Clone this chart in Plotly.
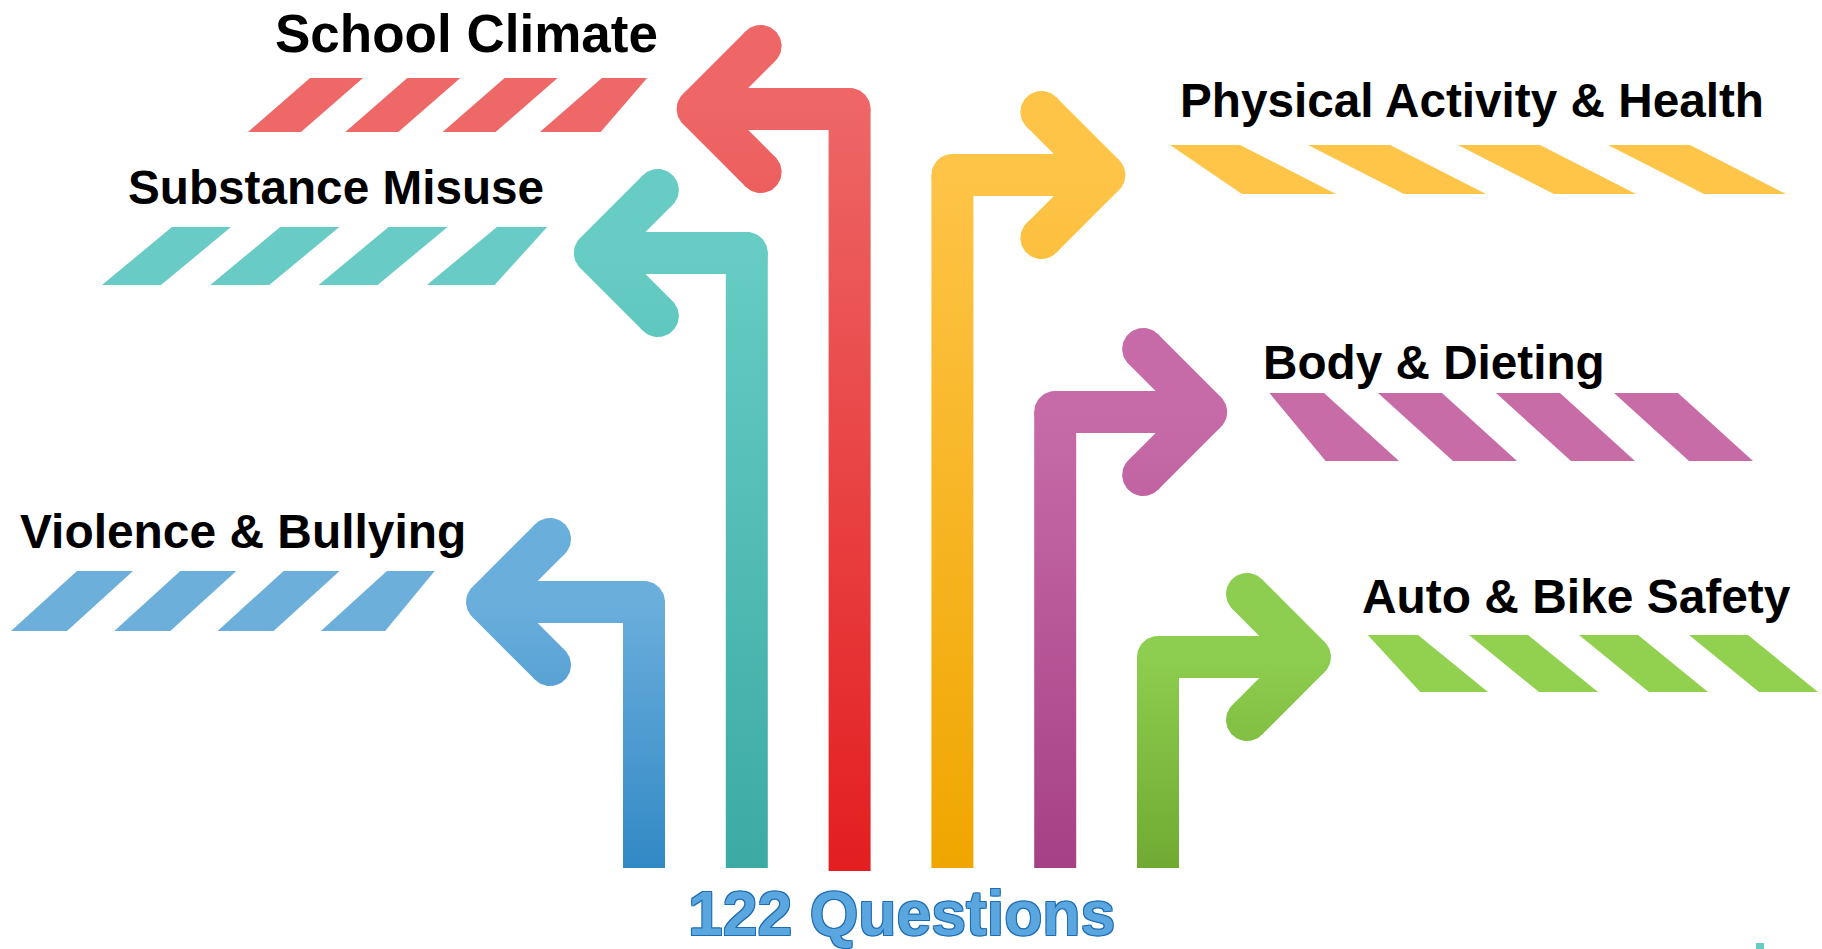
import numpy as np
import plotly.graph_objects as go

# ---------------- data ----------------
categories = ["School Climate", "Substance Misuse", "Violence & Bullying",
              "Physical Activity & Health", "Body & Dieting", "Auto & Bike Safety"]
directions = ["left", "left", "left", "right", "right", "right"]
stripe_counts = [4, 4, 4, 4, 4, 4]
total_label = "122 Questions"

# ---------------- styles ----------------
top_colors = ["#EE6666", "#66CCC4", "#6AAEDC", "#FEC447", "#C76BA8", "#8DCD4F"]
bottom_colors = ["#E31E20", "#3CAAA3", "#3289C5", "#F0A600", "#A64086", "#70AA32"]
stripe_colors = ["#EE6868", "#68CBC5", "#6BAFDA", "#FEC548", "#C86CA8", "#92D050"]

# ---------------- layout spec (pixel space) ----------------
W, H = 1822, 949
slot_index = [2, 1, 0, 3, 4, 5]          # column of each arrow, left to right
slot_x0, slot_dx = 644, 102.8
stroke = 42
head_offset = [152, 152, 157, 152, 151, 152]   # shaft centre -> arrow tip vertex
head_arm = 63                            # chevron half-extent
arm_y = [109, 253, 602, 175, 412, 657]
shaft_bottom = [871, 868, 868, 868, 868, 868]

label_x = [273, 126, 18, 1178, 1261, 1360]
label_baseline = [52, 204, 548, 117, 379, 613]
label_size = [53, 47.7, 47.9, 47.7, 47.7, 47.9]

# stripes: y_top, y_bot, x0, width, slant, period
stripe_spec = [
    (78, 132, 248, 53, 62, 97.3),
    (227, 285, 102, 59, 70, 108.3),
    (571, 631, 11, 56, 66, 103.3),
    (145, 194, 1158, 82, 96, 150),
    (393, 461, 1260, 64, 75, 118),
    (635, 692, 1359, 59, 70, 110),
]
clip_ratio = 0.75


def rect_poly(p0, p1, w):
    p0 = np.asarray(p0, float); p1 = np.asarray(p1, float)
    d = p1 - p0
    d = d / np.linalg.norm(d)
    n = np.array([-d[1], d[0]]) * w / 2
    pts = [p0 + n, p1 + n, p1 - n, p0 - n, p0 + n]
    return [p[0] for p in pts], [p[1] for p in pts]


def circle_poly(c, r, n=72):
    t = np.linspace(0, 2 * np.pi, n + 1)
    return list(c[0] + r * np.cos(t)), list(c[1] + r * np.sin(t))


fig = go.Figure()

for i, cat in enumerate(categories):
    sx = slot_x0 + slot_dx * slot_index[i]
    ay = arm_y[i]
    by = shaft_bottom[i]
    sign = -1 if directions[i] == "left" else 1
    tx = sx + sign * head_offset[i]
    A = (tx - sign * head_arm, ay - head_arm)
    B = (tx - sign * head_arm, ay + head_arm)
    T = (tx, ay)
    pieces = [
        rect_poly((sx, by), (sx, ay), stroke),
        rect_poly((tx, ay), (sx, ay), stroke),
        circle_poly((sx, ay), stroke / 2),
        rect_poly(A, T, stroke),
        rect_poly(B, T, stroke),
        circle_poly(T, stroke / 2),
        circle_poly(A, stroke / 2),
        circle_poly(B, stroke / 2),
    ]
    grad = dict(type="vertical",
                colorscale=[[0, top_colors[i]], [1, bottom_colors[i]]],
                start=ay, stop=by)
    for xs, ys in pieces:
        fig.add_trace(go.Scatter(x=xs, y=ys, mode="lines", fill="toself",
                                 line=dict(width=0, color=top_colors[i]),
                                 fillcolor=top_colors[i], fillgradient=grad,
                                 hoverinfo="skip", showlegend=False))

shapes = []
for i, cat in enumerate(categories):
    yt, yb, x0, w, s, p = stripe_spec[i]
    n = stripe_counts[i]
    c = clip_ratio * s
    for k in range(n):
        if directions[i] == "left":
            bl = x0 + k * p; br = bl + w; tl = bl + s; tr = br + s
            if k == n - 1:
                m = br + s / 2
                br, tr = m - c / 2, m + c / 2
        else:
            tl = x0 + k * p; tr = tl + w; bl = tl + s; br = tr + s
            if k == 0:
                m = tl + s / 2
                tl, bl = m - c / 2, m + c / 2
        path = f"M {bl},{yb} L {br},{yb} L {tr},{yt} L {tl},{yt} Z"
        shapes.append(dict(type="path", path=path, xref="x", yref="y",
                           fillcolor=stripe_colors[i], line=dict(width=0),
                           layer="above"))

shapes.append(dict(type="rect", xref="x", yref="y", x0=1756, x1=1764, y0=943, y1=949,
                   fillcolor="#66CCC4", line=dict(width=0)))

annotations = []
for i, cat in enumerate(categories):
    f = label_size[i]
    annotations.append(dict(text=cat, x=label_x[i], y=label_baseline[i] - 0.35 * f,
                            xref="x", yref="y", xanchor="left", yanchor="middle",
                            showarrow=False,
                            font=dict(family="Liberation Sans, Arial, sans-serif",
                                      size=f, color="#000000", weight=700)))

annotations.append(dict(text=total_label, x=901, y=913, xref="x", yref="y",
                        xanchor="center", yanchor="middle", showarrow=False,
                        font=dict(family="Liberation Sans, Arial, sans-serif", size=62.5,
                                  color="#5AA6DE", weight=700,
                                  shadow="-1px -1px 0 #1E6CB4, 1px -1px 0 #1E6CB4, "
                                         "-1px 1px 0 #1E6CB4, 1px 1px 0 #1E6CB4")))

fig.update_layout(
    width=W, height=H, margin=dict(l=0, r=0, t=0, b=0),
    paper_bgcolor="white", plot_bgcolor="white",
    xaxis=dict(range=[0, W], visible=False, fixedrange=True),
    yaxis=dict(range=[H, 0], visible=False, fixedrange=True),
    shapes=shapes, annotations=annotations, showlegend=False,
)

fig.write_html("out.html", config={"displayModeBar": False},
               post_script="document.body.style.margin='0';document.body.style.overflow='hidden';")
